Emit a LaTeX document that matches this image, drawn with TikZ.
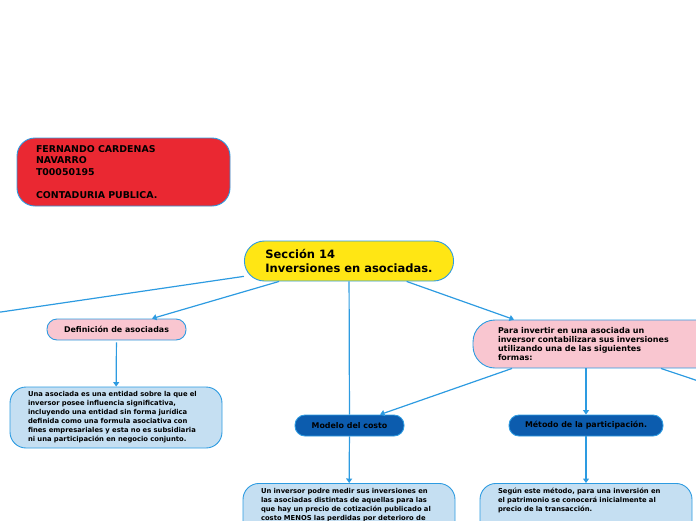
\documentclass[tikz,border=0pt]{standalone}
\usepackage{fontspec}
\setmainfont{DejaVu Sans}
\usepackage{xcolor}
\usetikzlibrary{
    arrows.meta,
    positioning
}
\definecolor{linecol}{RGB}{45,155,225}
\definecolor{redbox}{RGB}{234,40,50}
\definecolor{yelbox}{RGB}{255,230,20}
\definecolor{pinkbox}{RGB}{249,198,208}
\definecolor{skybox}{RGB}{197,223,242}
\definecolor{navybox}{RGB}{12,92,174}

\begin{document}
\begin{tikzpicture}[x=1pt, y=-1pt,
    box/.style={draw=linecol, line width=0.9pt, align=left},
    pill/.style={box, align=center, minimum height=21pt, rounded corners=10pt, inner sep=0pt,
        font=\bfseries\fontsize{7.9}{9}\selectfont},
    note/.style={box, fill=skybox, rounded corners=16pt, text width=176pt, inner xsep=18pt,
        font=\bfseries\fontsize{6.8}{9}\selectfont},
    link/.style={draw=linecol, line width=1.2pt, -{Triangle[width=6pt,length=4.5pt]}},
    plain/.style={draw=linecol, line width=1.2pt}]
                        \useasboundingbox (0,0) rectangle (696,520);

                        \node[box, fill=redbox, rounded corners=18pt, text width=175pt, inner xsep=19pt,
                            minimum height=68pt, font=\bfseries\fontsize{9.4}{11.5}\selectfont]
                            (autor) at (123.5,172) {FERNANDO CARDENAS\\NAVARRO\\T00050195\\[11.5pt]CONTADURIA PUBLICA.};
                        \node[box, fill=yelbox, rounded corners=20pt, inner xsep=21pt, minimum height=40pt,
                            font=\bfseries\fontsize{11.5}{14}\selectfont]
                            (seccion) at (349,261) {Sección 14\\Inversiones en asociadas.};

                        \node[pill, fill=pinkbox, minimum width=139pt] (defasoc) at (116.5,329.5) {Definición de asociadas};
                        \node[note, minimum height=61pt] (asocdef) at (116,417.5)
                            {Una asociada es una entidad sobre la que el\\
                            inversor posee influencia significativa,\\
                            incluyendo una entidad sin forma jurídica\\
                            definida como una formula asociativa con\\
                            fines empresariales y esta no es subsidiaria\\
                            ni una participación en negocio conjunto.};

                        \node[box, fill=pinkbox, rounded corners=22pt, text width=197pt, inner xsep=25pt,
                            minimum height=48pt, font=\bfseries\fontsize{8}{9.3}\selectfont]
                            (paraform) at (596.5,344) {Para invertir en una asociada un\\inversor contabilizara sus inversiones\\utilizando una de las siguientes\\formas:};

                        \node[pill, fill=navybox, minimum width=109pt] (modcosto) at (349.5,425.5) {Modelo del costo};
                        \node[pill, fill=navybox, minimum width=154pt] (metpart) at (586,425.5) {Método de la participación.};

                        \node[note, anchor=north, inner ysep=5pt, text depth=40pt] (costotxt) at (349,483)
                            {Un inversor podre medir sus inversiones en\\
                            las asociadas distintas de aquellas para las\\
                            que hay un precio de cotización publicado al\\
                            costo MENOS las perdidas por deterioro de};
                        \node[note, anchor=north, inner ysep=5pt, text depth=40pt] (parttxt) at (586,483)
                            {Según este método, para una inversión en\\
                            el patrimonio se conocerá inicialmente al\\
                            precio de la transacción.};

                        \coordinate (offleft) at (-40,318);
                        \coordinate (offright) at (740,395);

                        \draw
                        (seccion) edge[plain] (offleft)
                        (seccion) edge[link] ([xshift=35.5pt]defasoc.north)
                        (seccion) edge[plain] (modcosto)
                        (seccion) edge[link] ([xshift=-82.5pt]paraform.north)
                        (defasoc) edge[link, shorten <=2pt] (asocdef)
                        ([xshift=-84.5pt]paraform.south) edge[link] ([xshift=30.5pt]modcosto.north)
                        (paraform.south -| metpart.north) edge[link] (metpart.north)
                        ([xshift=64.5pt]paraform.south) edge[plain] (offright)
                        (modcosto) edge[link] (costotxt)
                        (metpart) edge[link] (parttxt);
                    \end{tikzpicture}
\end{document}
